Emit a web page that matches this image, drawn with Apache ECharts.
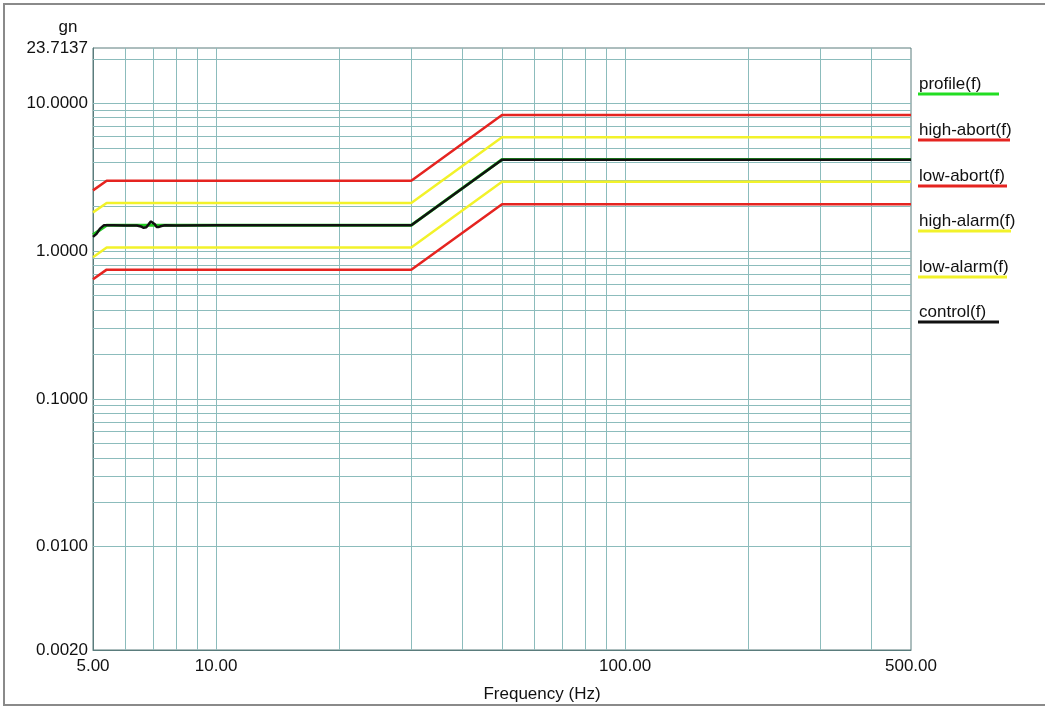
<!DOCTYPE html>
<html>
<head>
<meta charset="utf-8">
<script src="https://cdn.jsdelivr.net/npm/echarts@6/dist/echarts.min.js"></script>
<style>html,body{margin:0;padding:0;background:#fff;}#chart{width:1045px;height:708px;}</style>
</head>
<body>
<div id="chart"></div>
<script>
// ---- data ----
const limitFreq = [5, 5.4, 30, 50, 500];
const profileVals = [1.29, 1.5, 1.5, 4.17, 4.17];
const highAbortVals = [2.58, 3.0, 3.0, 8.34, 8.34];
const lowAbortVals = [0.645, 0.75, 0.75, 2.08, 2.08];
const highAlarmVals = [1.83, 2.12, 2.12, 5.9, 5.9];
const lowAlarmVals = [0.91, 1.06, 1.06, 2.95, 2.95];
const controlFreq = [5, 5.1, 5.2, 5.32, 5.6, 6.0, 6.4, 6.55, 6.65, 6.75, 6.85, 6.93, 7.0, 7.08, 7.15, 7.25, 7.35, 7.5, 8, 10, 15, 20, 25, 30, 50, 100, 200, 500];
const controlVals = [1.25, 1.31, 1.42, 1.5, 1.5, 1.49, 1.49, 1.47, 1.44, 1.45, 1.53, 1.59, 1.58, 1.52, 1.46, 1.46, 1.48, 1.5, 1.49, 1.5, 1.5, 1.5, 1.5, 1.5, 4.15, 4.15, 4.15, 4.15];
const xGridVals = [6, 7, 8, 9, 10, 20, 30, 40, 50, 60, 70, 80, 90, 100, 200, 300, 400];
const yGridVals = [0.003, 0.004, 0.005, 0.006, 0.007, 0.008, 0.009, 0.01, 0.02, 0.03, 0.04, 0.05, 0.06, 0.07, 0.08, 0.09, 0.1, 0.2, 0.3, 0.4, 0.5, 0.6, 0.7, 0.8, 0.9, 1, 2, 3, 4, 5, 6, 7, 8, 9, 10, 20];
const legendNames = ['profile(f)', 'high-abort(f)', 'low-abort(f)', 'high-alarm(f)', 'low-alarm(f)', 'control(f)'];
const legendColors = ['#22dd22', '#e52420', '#e52420', '#f2f22a', '#f2f22a', '#111111'];
const legendLineEnd = [999, 1010, 1007, 1011, 1007, 999];
const yAxisTitle = 'gn';
const xAxisTitle = 'Frequency (Hz)';

const pair = (xs, ys) => xs.map((x, i) => [x, ys[i]]);
const FONT = 'Liberation Sans, Arial, sans-serif';
const FS = 17;

const chart = echarts.init(document.getElementById('chart'), null, {renderer: 'canvas'});

const gridMark = {
  type: 'line', data: [], silent: true, z: 1,
  markLine: {
    silent: true, symbol: 'none', animation: false, z: 1,
    label: {show: false},
    lineStyle: {color: '#8cbcbc', width: 1, type: 'solid'},
    data: xGridVals.map(v => ({xAxis: v})).concat(yGridVals.map(v => ({yAxis: v})))
  }
};

function lineSeries(name, data, color, width, z, smooth) {
  return {
    name, type: 'line', data, showSymbol: false, symbol: 'none', z, smooth: smooth || false,
    lineStyle: {color, width}, itemStyle: {color}, animation: false, silent: true
  };
}

const graphics = [
  {type: 'rect', shape: {x: 4, y: 4, width: 1060, height: 701}, style: {fill: 'none', stroke: '#8a8a8a', lineWidth: 2}, z: 0},
  {type: 'text', x: 68, y: 27, style: {text: yAxisTitle, font: FS + 'px ' + FONT, fill: '#111', textAlign: 'center', textVerticalAlign: 'middle'}},
  {type: 'text', x: 542, y: 694, style: {text: xAxisTitle, font: FS + 'px ' + FONT, fill: '#111', textAlign: 'center', textVerticalAlign: 'middle'}}
];
const underlineY = [94, 140, 186, 231, 277, 322];
legendNames.forEach((n, i) => {
  graphics.push({type: 'text', x: 919, y: underlineY[i] - 10, style: {text: n, font: FS + 'px ' + FONT, fill: '#111', textAlign: 'left', textVerticalAlign: 'middle'}});
  graphics.push({type: 'line', shape: {x1: 918, y1: underlineY[i], x2: legendLineEnd[i], y2: underlineY[i]}, style: {stroke: legendColors[i], lineWidth: 3}});
});

chart.setOption({
  animation: false,
  backgroundColor: '#ffffff',
  grid: {left: 93, right: 134, top: 48, bottom: 58, show: true, borderColor: '#5a7c7c', borderWidth: 1, backgroundColor: 'transparent'},
  xAxis: {
    type: 'log', logBase: 10, min: 5, max: 500,
    axisLine: {show: true, lineStyle: {color: '#5a7c7c', width: 1}},
    axisTick: {show: false},
    splitLine: {show: false},
    axisLabel: {show: true, showMinLabel: true, showMaxLabel: true, margin: 8, color: '#111', fontFamily: FONT, fontSize: FS,
      formatter: v => Number(v).toFixed(2)}
  },
  yAxis: {
    type: 'log', logBase: 10, min: 0.002, max: 23.7137,
    axisLine: {show: true, lineStyle: {color: '#5a7c7c', width: 1}},
    axisTick: {show: false},
    splitLine: {show: false},
    axisLabel: {show: true, showMinLabel: true, showMaxLabel: true, margin: 5, color: '#111', fontFamily: FONT, fontSize: FS,
      formatter: v => Number(v).toFixed(4)}
  },
  series: [
    gridMark,
    lineSeries('high-abort(f)', pair(limitFreq, highAbortVals), '#e52420', 2.5, 3),
    lineSeries('low-abort(f)', pair(limitFreq, lowAbortVals), '#e52420', 2.5, 3),
    lineSeries('high-alarm(f)', pair(limitFreq, highAlarmVals), '#f2f22a', 2.5, 3),
    lineSeries('low-alarm(f)', pair(limitFreq, lowAlarmVals), '#f2f22a', 2.5, 3),
    lineSeries('profile(f)', pair(limitFreq, profileVals), '#22cc22', 3, 4),
    lineSeries('control(f)', pair(controlFreq, controlVals), '#111111', 2.5, 5)
  ],
  graphic: graphics
});
</script>
</body>
</html>
